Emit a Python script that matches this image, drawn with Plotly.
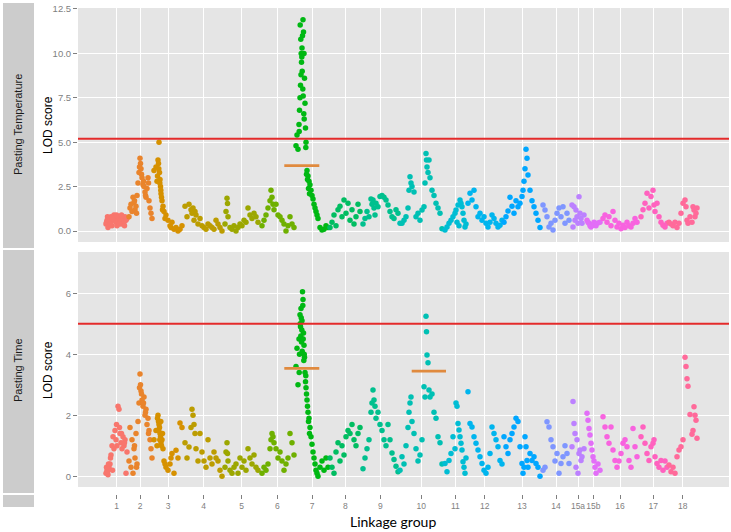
import numpy as np
import plotly.graph_objects as go

# linkage groups and where their labels sit on the cumulative map axis
groups = ["1", "2", "3", "4", "5", "6", "7", "8", "9", "10", "11", "12",
          "13", "14", "15a", "15b", "16", "17", "18"]
tick_pos = [116.7, 140, 168, 203.7, 241.7, 277.3, 312, 345.3, 380.3, 421.3,
            455.3, 484.7, 522, 556, 578, 593.3, 620, 653.3, 682.7]

# marker positions (cumulative map position), one list per linkage group
marker_pos = [
    [106, 107, 108, 109, 110, 111, 112, 113, 114, 115, 116, 117, 118, 119, 120, 121, 122, 123, 124, 125, 126, 127,
     106.5, 107.5, 108.5, 110.5, 112.5, 116.5, 119.5, 121.5, 124.5],
    [129, 130, 131, 132, 133, 134, 135, 136, 137, 138, 139, 140, 140.5, 141, 142, 143, 144, 145, 146, 147, 148, 149, 150, 151, 152,
     139.5, 141.5, 143.5, 145.5, 134.5, 136.5, 148.5],
    [154, 156, 157, 158, 158.5, 159, 159.5, 160, 160.5, 161, 162, 163, 164, 166, 168, 170, 172, 174, 176, 178, 180, 182,
     157.5, 158.8, 159.8, 160.8, 161.5, 162.5, 165, 171],
    [185, 187, 189, 191, 192, 193, 194, 195, 196, 198, 200, 202, 204, 206, 208, 210, 212, 214, 216, 218, 220, 222],
    [225, 226, 227, 227.5, 228, 230, 232, 234, 236, 238, 240, 242, 244, 246, 248, 250, 252, 254, 256, 258],
    [262, 264, 266, 268, 270, 271, 272, 273, 274, 276, 278, 280, 282, 284, 286, 288, 290, 292, 294],
    [296, 297, 298, 299, 299.5, 300, 300.5, 301, 301.5, 302, 302.5, 303, 303.5, 304, 304.5, 305, 305.5, 306,
     307, 308, 309, 310, 311, 312, 313, 314, 315, 316, 317, 318, 320, 322, 324, 326, 328,
     300.2, 300.8, 301.2, 301.8, 302.2, 302.8, 303.2, 303.8, 304.2, 299.2, 305.8, 306.5, 307.5, 308.5, 309.5],
    [330, 332, 334, 336, 338, 340, 342, 344, 346, 348, 350, 352, 354, 356, 358, 360],
    [363, 365, 367, 369, 371, 372, 373, 374, 375, 376, 378, 380, 382, 384, 386, 388, 390, 392, 394, 396, 398],
    [400, 402, 404, 406, 408, 409, 410, 411, 412, 414, 416, 418, 420, 422, 424, 425, 426, 426.5, 427, 428,
     429, 430, 432, 434, 436, 438, 440, 442],
    [445, 447, 449, 451, 453, 455, 456, 457, 458, 459, 460, 461, 462, 463, 464, 465, 466],
    [468, 470, 472, 474, 476, 478, 480, 482, 484, 486, 488, 490, 492, 494, 496, 498, 500, 502],
    [504, 506, 508, 510, 512, 514, 516, 518, 520, 522, 523, 524, 525, 526, 527, 528, 530, 532, 534, 536, 538, 540],
    [543, 545, 547, 549, 551, 553, 555, 557, 559, 561, 563, 565, 567, 569],
    [572, 573, 574, 575, 576, 577, 578, 579, 580, 581, 582, 584],
    [587, 588, 589, 590, 591, 592, 593, 594, 595, 596, 598, 600],
    [603, 605, 607, 609, 611, 613, 615, 617, 619, 621, 623, 625, 627, 629, 631, 633, 635, 637],
    [641, 643, 645, 647, 649, 651, 653, 654, 655, 657, 659, 661, 663, 665, 667],
    [669, 671, 673, 675, 677, 679, 681, 683, 685, 686, 687, 688, 690, 692, 693, 694, 695, 696, 697],
]

# LOD scores, Pasting Temperature
lod_temperature = [
    [0.4, 0.6, 0.2, 0.7, 0.5, 0.8, 0.3, 0.6, 0.9, 0.7, 0.5, 0.3, 0.6, 0.8, 0.5, 0.6, 0.4, 0.7, 0.5, 0.8, 0.6, 0.7,
     0.5, 0.8, 0.6, 0.4, 0.7, 0.9, 0.4, 0.9, 0.3],
    [0.8, 1.3, 1.5, 1.1, 1.9, 1.6, 1.2, 1.4, 2.0, 2.7, 3.3, 4.1, 3.8, 3.5, 3.0, 2.6, 2.5, 2.2, 1.9, 2.4, 3.0, 1.7, 1.3, 1.0, 0.7,
     3.6, 3.2, 2.8, 2.0, 1.7, 1.0, 2.7],
    [3.4, 3.6, 2.8, 4.0, 3.8, 5.0, 3.3, 2.9, 2.5, 2.1, 1.7, 1.4, 1.1, 0.9, 0.6, 0.3, 0.5, 0.1, 0.2, 0.0, 0.1, 0.3,
     3.1, 3.5, 2.7, 2.3, 1.9, 1.2, 0.7, 0.2],
    [1.4, 0.8, 1.5, 1.2, 1.0, 1.3, 0.6, 1.1, 0.9, 0.4, 0.7, 0.3, 0.2, 0.1, 0.4, 0.3, 0.2, 0.1, 0.6, 0.4, 0.2, 0.0],
    [0.4, 1.1, 1.85, 1.55, 0.8, 0.2, 0.1, 0.3, 0.0, 0.2, 0.4, 0.3, 0.6, 0.5, 1.3, 0.9, 0.7, 1.0, 0.8, 0.5],
    [0.3, 0.6, 0.9, 1.3, 1.7, 2.3, 1.9, 1.5, 1.2, 1.5, 0.9, 0.8, 0.6, 0.4, 0.0, 0.3, 0.8, 0.4, 0.2],
    [4.8, 5.4, 4.6, 6.0, 6.8, 7.5, 8.2, 8.8, 9.5, 10.3, 11.0, 11.9, 11.2, 10.0, 8.6, 7.2, 5.8, 5.0,
     3.4, 3.1, 2.8, 2.6, 2.3, 2.0, 1.8, 1.5, 1.3, 1.1, 0.9, 0.7, 0.2, 0.05, 0.1, 0.3, 0.2,
     11.6, 10.8, 10.0, 9.8, 9.0, 8.0, 7.6, 6.6, 6.3, 5.6, 4.7, 3.2, 2.9, 2.4, 2.1],
    [0.2, 0.5, 0.9, 0.3, 1.2, 1.4, 0.8, 1.75, 1.0, 1.56, 0.6, 1.2, 0.4, 0.8, 1.5, 1.1],
    [0.4, 0.7, 1.1, 0.8, 1.8, 1.5, 1.75, 1.3, 0.9, 1.56, 1.37, 1.94, 2.0, 1.9, 1.75, 1.47, 1.1, 0.8, 0.7, 1.2, 1.0],
    [0.43, 0.43, 0.6, 0.8, 1.3, 2.3, 3.06, 2.7, 2.5, 2.2, 0.8, 1.0, 0.6, 1.18, 1.37, 2.7, 4.37, 4.0, 3.6, 3.3,
     4.0, 3.0, 2.3, 2.0, 1.56, 1.3, 1.0, 0.13],
    [0.05, 0.23, 0.43, 0.6, 0.8, 1.0, 1.18, 0.5, 1.47, 0.3, 1.75, 1.56, 1.37, 1.0, 0.6, 0.23, 0.4],
    [1.56, 2.12, 1.75, 2.3, 1.37, 0.8, 1.0, 0.6, 0.8, 0.43, 0.23, 0.5, 0.9, 0.7, 0.43, 0.23, 0.33, 0.6],
    [0.5, 0.8, 1.13, 1.9, 1.4, 1.0, 1.7, 1.37, 1.56, 1.94, 2.3, 2.8, 3.5, 4.6, 4.1, 3.15, 2.3, 1.7, 1.37, 1.0, 0.6, 0.2],
    [1.46, 1.18, 0.8, 0.23, 0.43, 0.05, 0.6, 1.0, 1.3, 0.8, 1.37, 0.43, 1.0, 0.6],
    [1.46, 0.23, 1.37, 0.6, 1.18, 0.8, 0.43, 1.93, 1.0, 0.7, 0.43, 0.9],
    [0.6, 0.5, 0.43, 0.3, 0.23, 0.35, 0.33, 0.5, 0.4, 0.3, 0.45, 0.5],
    [0.7, 0.9, 0.5, 0.8, 0.3, 1.1, 0.6, 0.23, 0.43, 0.13, 0.33, 0.2, 0.5, 0.3, 0.23, 0.43, 0.7, 0.5],
    [0.8, 1.2, 1.56, 2.12, 1.3, 1.94, 2.3, 1.47, 1.1, 1.56, 0.8, 0.5, 0.33, 0.23, 0.43],
    [0.5, 0.4, 0.3, 0.5, 0.2, 0.43, 1.0, 1.56, 1.75, 1.37, 0.6, 0.43, 0.8, 0.5, 1.37, 1.18, 0.8, 1.0, 1.3],
]

# LOD scores, Pasting Time
lod_time = [
    [0.1, 0.2, 0.05, 0.3, 0.4, 0.7, 1.0, 1.3, 0.9, 1.5, 1.2, 1.0, 2.3, 2.2, 1.4, 1.1, 0.9, 1.3, 1.0, 1.2, 0.1, 0.8,
     0.3, 0.15, 0.4, 0.6, 0.2, 1.7, 1.6, 1.4, 1.1],
    [0.5, 1.6, 0.3, 1.2, 0.1, 0.9, 0.6, 1.4, 0.4, 1.8, 2.4, 3.35, 3.0, 2.8, 2.5, 2.3, 2.6, 2.0, 2.2, 1.7, 1.9, 1.5, 1.2, 0.9, 0.6,
     2.9, 2.7, 2.4, 2.1, 1.0, 0.3, 1.4],
    [1.2, 1.5, 1.0, 2.0, 1.8, 1.7, 1.6, 1.4, 1.3, 1.1, 1.2, 0.9, 0.5, 0.3, 0.2, 0.4, 0.75, 0.1, 0.85, 0.6, 1.75, 1.6,
     1.9, 1.5, 1.2, 1.8, 1.0, 1.4, 0.4, 0.6],
    [1.1, 0.6, 0.96, 1.6, 2.2, 2.0, 1.7, 1.4, 0.9, 0.5, 1.4, 0.8, 0.5, 0.3, 1.2, 0.6, 0.4, 0.8, 0.6, 0.5, 0.2, 0.0],
    [0.3, 0.8, 1.1, 0.75, 0.5, 0.2, 0.1, 0.3, 0.4, 0.1, 0.6, 0.3, 0.5, 0.2, 0.9, 0.6, 0.4, 0.7, 0.3, 0.2],
    [0.1, 0.3, 0.2, 0.4, 0.9, 1.2, 1.4, 1.3, 1.1, 0.9, 0.6, 0.8, 0.5, 0.2, 0.4, 0.6, 1.4, 1.1, 0.7],
    [3.6, 4.2, 3.0, 4.5, 4.0, 5.3, 4.9, 5.5, 4.4, 5.1, 6.05, 5.8, 4.7, 4.3, 3.9, 3.4, 3.1, 2.9,
     2.5, 2.1, 1.9, 1.6, 1.3, 1.05, 0.8, 0.6, 0.4, 0.2, 0.1, 0.0, 0.3, 0.5, 0.2, 0.6, 0.3,
     5.0, 4.6, 5.2, 4.8, 4.1, 5.6, 4.5, 3.8, 4.0, 3.4, 3.3, 2.7, 2.3, 1.8, 1.4],
    [0.6, 0.3, 0.1, 0.8, 1.1, 0.5, 1.0, 0.7, 1.3, 1.5, 1.4, 1.7, 1.2, 1.0, 1.4, 1.6],
    [0.25, 0.6, 0.9, 1.2, 2.1, 2.4, 2.83, 2.5, 2.3, 1.9, 2.1, 1.7, 1.5, 1.2, 1.0, 1.7, 1.2, 0.76, 0.55, 0.33, 0.15],
    [0.2, 0.64, 0.4, 1.0, 1.6, 2.1, 2.4, 2.6, 1.8, 1.4, 0.9, 0.5, 0.7, 1.2, 2.94, 2.6, 5.25, 4.74, 3.98, 3.72,
     2.83, 2.6, 2.7, 2.1, 1.9, 1.3, 1.1, 0.4],
    [0.42, 0.15, 0.52, 0.75, 1.3, 0.9, 2.4, 2.3, 1.73, 1.52, 1.3, 1.08, 0.86, 0.48, 0.3, 0.1, 0.6],
    [2.77, 1.73, 1.62, 1.3, 1.08, 0.86, 0.64, 0.42, 0.2, 0.1, 0.3, 0.75, 1.62, 1.4, 1.2, 0.97, 0.52, 0.4],
    [1.3, 0.97, 0.75, 1.2, 1.4, 1.62, 1.9, 1.8, 0.97, 0.42, 0.1, 0.3, 1.3, 0.97, 0.52, 0.3, 0.75, 0.52, 0.64, 0.42, 0.3, 0.0],
    [0.2, 0.3, 1.79, 1.62, 1.2, 0.97, 0.5, 0.75, 0.1, 0.42, 0.64, 1.0, 0.75, 0.42],
    [0.97, 2.45, 1.73, 1.4, 0.3, 1.2, 0.1, 0.75, 0.86, 0.52, 0.64, 0.9],
    [2.07, 1.84, 1.57, 1.35, 1.08, 0.86, 0.64, 0.5, 0.3, 0.1, 0.4, 0.2],
    [1.95, 1.62, 1.3, 1.08, 1.62, 0.86, 0.52, 0.3, 0.5, 0.75, 1.08, 1.2, 0.97, 0.52, 0.3, 1.57, 0.97, 0.64],
    [1.3, 1.62, 1.08, 0.75, 0.52, 0.97, 1.08, 1.2, 0.64, 0.42, 0.3, 0.52, 0.2, 0.5, 0.3],
    [0.37, 0.15, 0.3, 0.1, 0.64, 0.86, 0.97, 1.2, 3.9, 3.6, 3.2, 2.95, 2.03, 1.38, 1.5, 2.28, 2.0, 1.84, 1.25],
]

# genome-wide thresholds and QTL support lines (start, end, LOD)
threshold_temperature = 5.2
threshold_time = 5.0
qtl_temperature = [(284.3, 319.3, 3.68)]
qtl_time = [(284.3, 319.3, 3.54), (411.7, 446.0, 3.45)]


def hue_palette(n, l=65, c=100, h_start=15):
    """ggplot2-like hue palette (polar LUV -> sRGB)"""
    xn, yn, zn = 95.047, 100.0, 108.883
    un = 4 * xn / (xn + 15 * yn + 3 * zn)
    vn = 9 * yn / (xn + 15 * yn + 3 * zn)
    y = yn * ((l + 16) / 116) ** 3
    out = []
    for k in range(n):
        h = np.radians(h_start + 360 * k / n)
        u, v = c * np.cos(h), c * np.sin(h)
        up = u / (13 * l) + un
        vp = v / (13 * l) + vn
        x = 9 * y * up / (4 * vp)
        z = -x / 3 - 5 * y + 3 * y / vp
        X, Y, Z = x / 100, y / 100, z / 100
        rgb = [3.240479 * X - 1.537150 * Y - 0.498535 * Z,
               -0.969256 * X + 1.875992 * Y + 0.041556 * Z,
               0.055648 * X - 0.204043 * Y + 1.057311 * Z]
        rgb = [12.92 * ch if ch <= 0.0031308 else 1.055 * ch ** (1 / 2.4) - 0.055 for ch in rgb]
        rgb = [int(round(min(max(ch, 0), 1) * 255)) for ch in rgb]
        out.append("#%02X%02X%02X" % tuple(rgb))
    return out


colors = hue_palette(len(groups))

W, H = 731, 532
ML, MR, MT, MB = 78, 2, 8, 38
PW, PH = W - ML - MR, H - MT - MB


def px_x(px):
    return (px - ML) / PW


def px_y(py):
    return (H - MB - py) / PH


TICK_GRAY = "#7F7F7F"
PANEL_BG = "#E5E5E5"
STRIP_BG = "#CCCCCC"
RED = "#E42B2B"
ORANGE = "#E08A3E"

fig = go.Figure()

for i, g in enumerate(groups):
    fig.add_trace(go.Scatter(
        x=marker_pos[i], y=lod_temperature[i], mode="markers",
        marker=dict(color=colors[i], size=5.5, line=dict(width=0)),
        xaxis="x", yaxis="y", showlegend=False, name=g
    ))
    fig.add_trace(go.Scatter(
        x=marker_pos[i], y=lod_time[i], mode="markers",
        marker=dict(color=colors[i], size=5.5, line=dict(width=0)),
        xaxis="x2", yaxis="y2", showlegend=False, name=g
    ))

for x0, x1, lod in qtl_temperature:
    fig.add_trace(go.Scatter(x=[x0, x1], y=[lod, lod], mode="lines",
                             line=dict(color=ORANGE, width=2.7),
                             xaxis="x", yaxis="y", showlegend=False))
for x0, x1, lod in qtl_time:
    fig.add_trace(go.Scatter(x=[x0, x1], y=[lod, lod], mode="lines",
                             line=dict(color=ORANGE, width=2.7),
                             xaxis="x3", yaxis="y2", showlegend=False))

x_range = [ML, W - MR]
common_x = dict(range=x_range, tickvals=tick_pos, showgrid=True, gridcolor="white",
                gridwidth=1, zeroline=False, showline=False)
common_y = dict(showgrid=True, gridcolor="white", gridwidth=1, zeroline=False,
                showline=False, ticks="outside", ticklen=4, tickwidth=1,
                tickcolor=TICK_GRAY,
                tickfont=dict(family="Liberation Sans", size=9.5, color=TICK_GRAY))

top_dom = [px_y(242), 1]
bot_dom = [px_y(487), px_y(252)]

fig.update_layout(
    width=W, height=H,
    margin=dict(l=ML, r=MR, t=MT, b=MB),
    paper_bgcolor="white", plot_bgcolor="white",
    xaxis=dict(**common_x, anchor="y", showticklabels=False, ticks=""),
    yaxis=dict(**common_y, domain=top_dom, anchor="x", range=[-0.619, 12.556],
               tickvals=[0, 2.5, 5, 7.5, 10, 12.5],
               ticktext=["0.0", "2.5", "5.0", "7.5", "10.0", "12.5"]),
    xaxis2=dict(**common_x, anchor="y2", showticklabels=False, ticks=""),
    yaxis2=dict(**common_y, domain=bot_dom, anchor="x2", range=[-0.351, 7.354],
                tickvals=[0, 2, 4, 6], ticktext=["0", "2", "4", "6"]),
    xaxis3=dict(overlaying="x2", anchor="free", position=0, range=x_range,
                tickvals=tick_pos, ticktext=groups, tickangle=0, showgrid=False,
                zeroline=False, showline=False, ticks="outside", ticklen=4,
                tickwidth=1, tickcolor=TICK_GRAY,
                tickfont=dict(family="Liberation Sans", size=8.5, color=TICK_GRAY)),
    font=dict(family="Liberation Sans"),
)

shapes = [
    dict(type="rect", xref="x domain", yref="y domain", x0=0, x1=1, y0=0, y1=1,
         fillcolor=PANEL_BG, line=dict(width=0), layer="below"),
    dict(type="rect", xref="x2 domain", yref="y2 domain", x0=0, x1=1, y0=0, y1=1,
         fillcolor=PANEL_BG, line=dict(width=0), layer="below"),
    dict(type="line", xref="x domain", yref="y", x0=0, x1=1,
         y0=threshold_temperature, y1=threshold_temperature,
         line=dict(color=RED, width=2), layer="above"),
    dict(type="line", xref="x2 domain", yref="y2", x0=0, x1=1,
         y0=threshold_time, y1=threshold_time,
         line=dict(color=RED, width=2), layer="above"),
]
# facet strips on the left
for y0, y1 in [(3, 248), (250, 493), (495, 507)]:
    shapes.append(dict(type="rect", xref="paper", yref="paper",
                       x0=px_x(3), x1=px_x(34), y0=px_y(y1), y1=px_y(y0),
                       fillcolor=STRIP_BG, line=dict(width=0), layer="below"))
fig.update_layout(shapes=shapes)

annotations = []
for label, yc in [("Pasting Temperature", 125), ("Pasting Time", 370)]:
    annotations.append(dict(text=label, xref="paper", yref="paper", x=px_x(18), y=px_y(yc),
                            showarrow=False, textangle=-90, xanchor="center", yanchor="middle",
                            font=dict(family="Liberation Sans", size=11, color="#1A1A1A")))
    annotations.append(dict(text="LOD score", xref="paper", yref="paper", x=px_x(48), y=px_y(yc),
                            showarrow=False, textangle=-90, xanchor="center", yanchor="middle",
                            font=dict(family="Liberation Sans", size=12, color="black")))
annotations.append(dict(text="Linkage group", xref="paper", yref="paper",
                        x=px_x(392.5), y=px_y(521.5), showarrow=False,
                        xanchor="center", yanchor="middle",
                        font=dict(family="Lato", size=14, color="black")))
fig.update_layout(annotations=annotations)

# the page body has a default 8px margin; drop it so the figure fills the window
fig.write_html("out.html", config={"displayModeBar": False},
               post_script="document.body.style.margin='0px';")
